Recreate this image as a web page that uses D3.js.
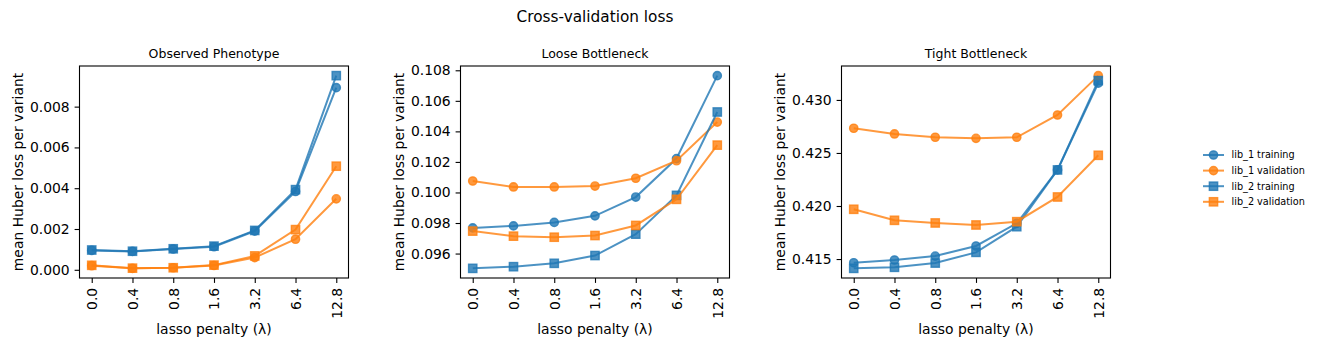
<!DOCTYPE html>
<html>
<head>
<meta charset="utf-8">
<script src="https://cdn.jsdelivr.net/npm/d3@7"></script>
<style>
  html, body { margin: 0; padding: 0; background: #fff; }
  svg { display: block; font-family: "DejaVu Sans", sans-serif; }
</style>
</head>
<body>
<div id="chart"></div>
<script>
// lasso penalty values along the x axis (categorical)
const lambdas = ["0.0", "0.4", "0.8", "1.6", "3.2", "6.4", "12.8"];
const panelTitles = ["Observed Phenotype", "Loose Bottleneck", "Tight Bottleneck"];
const seriesNames = ["lib_1 training", "lib_1 validation", "lib_2 training", "lib_2 validation"];

// mean Huber loss per variant, one array per series and panel
const observedLib1Train = [0.00095, 0.00090, 0.00102, 0.00113, 0.00190, 0.00384, 0.00893];
const observedLib1Val   = [0.00020, 0.00007, 0.00010, 0.00021, 0.00060, 0.00150, 0.00348];
const observedLib2Train = [0.00097, 0.00091, 0.00103, 0.00116, 0.00193, 0.00393, 0.00952];
const observedLib2Val   = [0.00022, 0.00008, 0.00010, 0.00023, 0.00068, 0.00197, 0.00508];

const looseLib1Train = [0.09768, 0.09781, 0.09804, 0.09847, 0.09970, 0.10222, 0.10765];
const looseLib1Val   = [0.10075, 0.10036, 0.10036, 0.10042, 0.10093, 0.10208, 0.10461];
const looseLib2Train = [0.09503, 0.09514, 0.09536, 0.09587, 0.09727, 0.09981, 0.10527];
const looseLib2Val   = [0.09747, 0.09714, 0.09707, 0.09718, 0.09784, 0.09955, 0.10310];

const tightLib1Train = [0.41465, 0.41491, 0.41528, 0.41623, 0.41837, 0.42340, 0.43158];
const tightLib1Val   = [0.42733, 0.42679, 0.42648, 0.42638, 0.42648, 0.42858, 0.43229];
const tightLib2Train = [0.41412, 0.41422, 0.41462, 0.41563, 0.41805, 0.42340, 0.43182];
const tightLib2Val   = [0.41969, 0.41865, 0.41840, 0.41821, 0.41852, 0.42085, 0.42478];

// y tick labels for each panel
const observedTicks = [0.000, 0.002, 0.004, 0.006, 0.008];
const looseTicks    = [0.096, 0.098, 0.100, 0.102, 0.104, 0.106, 0.108];
const tightTicks    = [0.415, 0.420, 0.425, 0.430];

const panels = [
  { title: panelTitles[0], series: [observedLib1Train, observedLib1Val, observedLib2Train, observedLib2Val], ticks: observedTicks },
  { title: panelTitles[1], series: [looseLib1Train, looseLib1Val, looseLib2Train, looseLib2Val], ticks: looseTicks },
  { title: panelTitles[2], series: [tightLib1Train, tightLib1Val, tightLib2Train, tightLib2Val], ticks: tightTicks }
];

const blue = "#1f77b4", orange = "#ff7f0e";
const seriesColor = [blue, orange, blue, orange];
const seriesShape = ["circle", "circle", "square", "square"];

const width = 1318, height = 348;
const axTop = 66, axBottom = 278, axWidth = 269;
const axLefts = [79.5, 460.5, 841.5];

const svg = d3.select("#chart").append("svg")
  .attr("width", width)
  .attr("height", height);

svg.append("text")
  .attr("x", 595).attr("y", 21.5)
  .attr("text-anchor", "middle")
  .attr("font-size", 15.3)
  .text("Cross-validation loss");

// draws a single marker (circle or square) at the origin of a group
function marker(g, shape, color) {
  const m = shape === "circle"
    ? g.append("circle").attr("r", 4.15)
    : g.append("rect").attr("x", -4.15).attr("y", -4.15).attr("width", 8.3).attr("height", 8.3);
  m.attr("fill", color).attr("fill-opacity", 0.8)
    .attr("stroke", color).attr("stroke-opacity", 0.8).attr("stroke-width", 1.4);
}

panels.forEach((p, pi) => {
  const left = axLefts[pi];
  const g = svg.append("g");

  // categorical x positions with 5% margins like matplotlib
  const x = d3.scaleLinear().domain([-0.3, lambdas.length - 1 + 0.3]).range([left, left + axWidth]);
  const all = p.series.flat();
  const [lo, hi] = d3.extent(all);
  const pad = (hi - lo) * 0.05;
  const y = d3.scaleLinear().domain([lo - pad, hi + pad]).range([axBottom, axTop]);

  // series lines and markers
  p.series.forEach((vals, si) => {
    const line = d3.line().x((d, i) => x(i)).y(d => y(d));
    const sg = g.append("g");
    sg.append("path")
      .attr("d", line(vals))
      .attr("fill", "none")
      .attr("stroke", seriesColor[si])
      .attr("stroke-opacity", 0.8)
      .attr("stroke-width", 2);
    vals.forEach((v, i) => {
      marker(sg.append("g").attr("transform", `translate(${x(i)},${y(v)})`), seriesShape[si], seriesColor[si]);
    });
  });

  // x axis
  const xAxis = g.append("g")
    .attr("transform", `translate(0,${axBottom})`)
    .call(d3.axisBottom(x).tickValues(d3.range(lambdas.length)).tickFormat(i => lambdas[i]).tickSize(4.9).tickPadding(4.9));
  xAxis.select(".domain").remove();
  xAxis.selectAll(".tick line").attr("stroke-width", 1.1);
  xAxis.selectAll(".tick text")
    .attr("font-size", 13.9)
    .attr("fill", "#000")
    .attr("transform", "rotate(-90)")
    .attr("text-anchor", "end")
    .attr("x", -9.8)
    .attr("y", 0)
    .attr("dy", "0.35em");

  // y axis
  const yAxis = g.append("g")
    .attr("transform", `translate(${left},0)`)
    .call(d3.axisLeft(y).tickValues(p.ticks).tickFormat(d3.format(".3f")).tickSize(4.9).tickPadding(4.9));
  yAxis.select(".domain").remove();
  yAxis.selectAll(".tick line").attr("stroke-width", 1.1);
  yAxis.selectAll(".tick text").attr("font-size", 13.9).attr("fill", "#000").attr("font-family", null);
  xAxis.attr("font-family", null);
  yAxis.attr("font-family", null);

  // frame
  g.append("rect")
    .attr("x", left).attr("y", axTop)
    .attr("width", axWidth).attr("height", axBottom - axTop)
    .attr("fill", "none").attr("stroke", "#000").attr("stroke-width", 1.1);

  g.append("text")
    .attr("x", left + axWidth / 2).attr("y", 58.3)
    .attr("text-anchor", "middle")
    .attr("font-size", 12.5)
    .text(p.title);

  g.append("text")
    .attr("x", left + axWidth / 2).attr("y", 334)
    .attr("text-anchor", "middle")
    .attr("font-size", 13.9)
    .text("lasso penalty (λ)");

  g.append("text")
    .attr("transform", `translate(${left - 57},${(axTop + axBottom) / 2}) rotate(-90)`)
    .attr("text-anchor", "middle")
    .attr("font-size", 13.9)
    .text("mean Huber loss per variant");
});

// legend
const legend = svg.append("g").attr("transform", "translate(1203,155)");
seriesNames.forEach((name, i) => {
  const row = legend.append("g").attr("transform", `translate(0,${i * 15.6})`);
  row.append("line")
    .attr("x1", 0).attr("x2", 21)
    .attr("stroke", seriesColor[i]).attr("stroke-opacity", 0.8).attr("stroke-width", 2);
  marker(row.append("g").attr("transform", "translate(10.5,0)"), seriesShape[i], seriesColor[i]);
  row.append("text")
    .attr("x", 28.5).attr("y", 0).attr("dy", "0.35em")
    .attr("font-size", 9.7)
    .text(name);
});
</script>
</body>
</html>
